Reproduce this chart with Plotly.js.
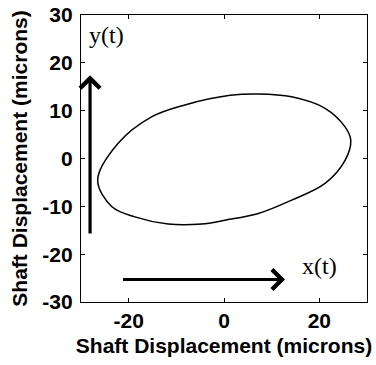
<!DOCTYPE html>
<html>
<head>
<meta charset="utf-8">
<script src="https://cdn.plot.ly/plotly-3.0.1.min.js"></script>
<style>html,body{margin:0;padding:0;background:#fff;}#chart{width:376px;height:365px;}</style>
</head>
<body>
<div id="chart"></div>
<script>
// Orbit (shaft displacement), microns
const orbitX = [-26.5, -22.2, -15.2, -8.2, 1.3, 7.2, 14.2, 21.2, 25.4, 26.6, 25.4, 21.2, 14.2, 7.2, 0.2, -4.7, -11.7, -18.7, -23.5, -26.5];
const orbitY = [-4.5, 3.2, 8.7, 11.2, 13.2, 13.5, 12.9, 10.5, 6.6, 3.8, -0.4, -5.2, -8.7, -11.5, -12.9, -13.7, -13.7, -12.2, -10.1, -4.5];

// Direction arrows: [tail, head]
const yArrowX = [-28.1, -28.1];
const yArrowY = [-16, 17.4];
const xArrowX = [-21.5, 12.8];
const xArrowY = [-25.3, -25.3];

// Arrow labels
const labelText = ['y(t)', 'x(t)'];
const labelX = [-24.7, 20.1];
const labelY = [25.8, -22.5];

const xTicks = [-20, 0, 20];
const yTicks = [-30, -20, -10, 0, 10, 20, 30];
const axisTitle = 'Shaft Displacement (microns)';

const traces = [{
  x: orbitX, y: orbitY, type: 'scatter', mode: 'lines',
  line: {color: '#000', width: 1.5, shape: 'spline', smoothing: 1},
  hoverinfo: 'skip', showlegend: false
}];

const ann = [];
[[yArrowX, yArrowY], [xArrowX, xArrowY]].forEach(([ax, ay]) => {
  ann.push({
    x: ax[1], y: ay[1], ax: ax[0], ay: ay[0], xref: 'x', yref: 'y', axref: 'x', ayref: 'y',
    text: '', showarrow: true, arrowhead: 4, arrowsize: 1.2, arrowwidth: 3.2, arrowcolor: '#000', standoff: 0
  });
});
labelText.forEach((t, i) => {
  ann.push({
    x: labelX[i], y: labelY[i], xref: 'x', yref: 'y', text: t, showarrow: false,
    font: {family: 'Liberation Serif, Times New Roman, serif', size: 24, color: '#000'}
  });
});

const sansBold = {family: 'Liberation Sans, Arial, sans-serif', size: 21, color: '#000', weight: 'bold'};

const axisCommon = {
  showgrid: false, zeroline: false, showline: true, linecolor: '#000', linewidth: 1.2,
  mirror: 'ticks', ticks: 'inside', ticklen: 4, tickcolor: '#000', tickwidth: 1,
  tickfont: sansBold, fixedrange: true
};

const layout = {
  width: 376, height: 365,
  margin: {l: 81, r: 9, t: 15, b: 63},
  paper_bgcolor: '#fff', plot_bgcolor: '#fff',
  xaxis: Object.assign({}, axisCommon, {
    range: [-30, 30], tickvals: xTicks, ticktext: xTicks.map(String),
    title: {text: axisTitle, font: sansBold, standoff: 6}
  }),
  yaxis: Object.assign({}, axisCommon, {
    range: [-30, 30], tickvals: yTicks, ticktext: yTicks.map(String),
    ticklabelstandoff: 3,
    title: {text: axisTitle, font: sansBold, standoff: 8}
  }),
  annotations: ann,
  showlegend: false
};

Plotly.newPlot('chart', traces, layout, {displayModeBar: false, staticPlot: true});
</script>
</body>
</html>
